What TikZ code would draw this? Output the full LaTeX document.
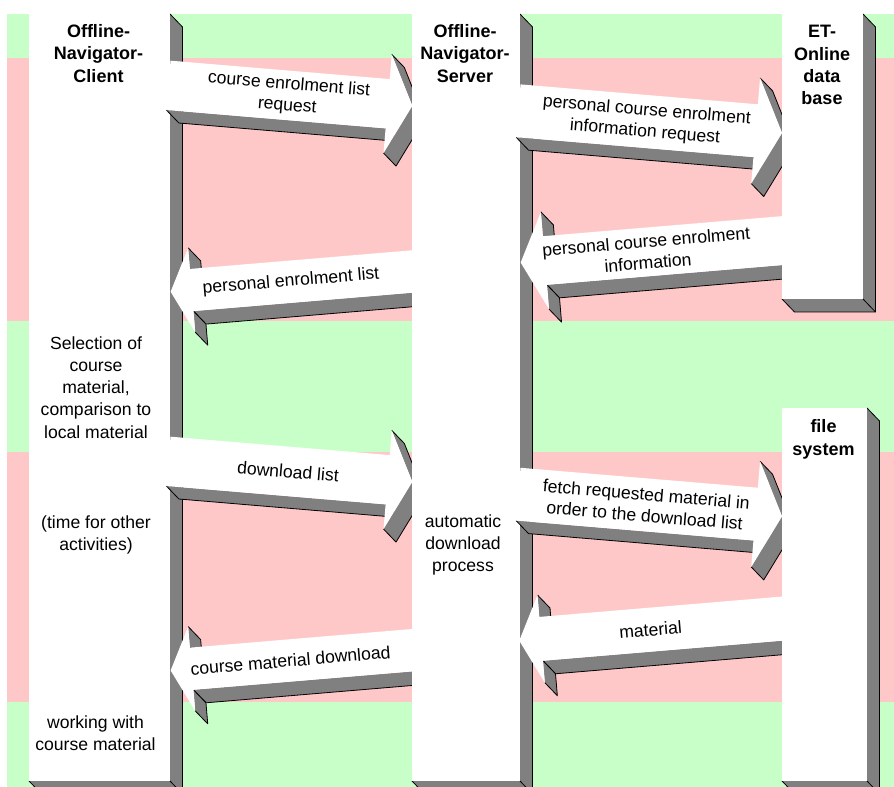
\documentclass[tikz,border=0pt]{standalone}
\usepackage{fontspec}
\setmainfont{Liberation Sans}
\usetikzlibrary{calc}
\definecolor{bandgreen}{RGB}{200,255,200}
\definecolor{bandpink}{RGB}{255,200,200}
\definecolor{shadowgray}{RGB}{128,128,128}
\newcommand\shx{12.5}
\newcommand\shy{13}
% 3D life line: x0,y0,x1,y1
\newcommand\mylifeline[4]{%
  \fill[shadowgray] (#3,#2) -- (#3+\shx,#2+\shy) -- (#3+\shx,#4+\shy) -- (#1+\shx,#4+\shy) -- (#1,#4) -- (#3,#4) -- cycle;
  \draw[edge] (#3,#2) -- (#3+\shx,#2+\shy) -- (#3+\shx,#4+\shy) -- (#1+\shx,#4+\shy) -- (#1,#4);
  \draw[edge] (#3,#4) -- (#3+\shx,#4+\shy);
  \fill[white] (#1,#2) rectangle (#3,#4);}
% arrow corner points: name,x,y,mirror,s,h,labelpos
\newcommand\mysetup[7]{%
  \begin{scope}[shift={(#2,#3)},xscale=#4,rotate=-4.8]
    \coordinate (#1TT) at (0,-#6/2);
    \coordinate (#1TB) at (0,#6/2);
    \coordinate (#1HT) at (#5,-#6/2);
    \coordinate (#1HB) at (#5,#6/2);
    \coordinate (#1UW) at (#5,-#6);
    \coordinate (#1LW) at (#5,#6);
    \coordinate (#1TP) at (#5+#6/2,0);
    \coordinate (#1L) at (#7,0);
  \end{scope}}
\newcommand\myside[2]{%
  \fill[shadowgray] (#1) -- (#2) -- ($(#2)+(\shx,\shy)$) -- ($(#1)+(\shx,\shy)$) -- cycle;
  \draw[edge] (#1) -- ($(#1)+(\shx,\shy)$) -- ($(#2)+(\shx,\shy)$) -- (#2);}
\newcommand\myfront[1]{%
  \fill[white] (#1TT) -- (#1HT) -- (#1UW) -- (#1TP) -- (#1LW) -- (#1HB) -- (#1TB) -- cycle;}
% name,x,y,s,h,labelpos,label
\newcommand\myrarrow[7]{%
  \mysetup{#1}{#2}{#3}{1}{#4}{#5}{#6}%
  \myside{#1TB}{#1HB}\myside{#1LW}{#1TP}\myside{#1TP}{#1UW}%
  \myfront{#1}%
  \node[albl,rotate=-4.8] (#1txt) at (#1L) {#7};}
\newcommand\mylarrow[7]{%
  \mysetup{#1}{#2}{#3}{-1}{#4}{#5}{#6}%
  \myside{#1HB}{#1TB}\myside{#1UW}{#1HT}\myside{#1HB}{#1LW}%
  \myfront{#1}%
  \node[albl,rotate=4.8] (#1txt) at (#1L) {#7};}
\begin{document}
\begin{tikzpicture}[x=0.75pt,y=-0.75pt,
  edge/.style={draw=black,line width=0.6pt,line join=round},
  albl/.style={font=\fontsize{13.2}{16}\selectfont,align=center,inner sep=0pt},
  clbl/.style={font=\fontsize{13.2}{16.7}\selectfont,align=center,inner sep=0pt,anchor=north},
  hlbl/.style={font=\fontsize{13.5}{16.8}\selectfont\bfseries,align=center,inner sep=0pt,anchor=north}]
\useasboundingbox (0,0) rectangle (894,787);
\clip (0,0) rectangle (894,787);
% bands
\fill[bandgreen] (7,14) rectangle (894,58);
\fill[bandpink] (7,58) rectangle (894,321);
\fill[bandgreen] (7,321) rectangle (894,452);
\fill[bandpink] (7,452) rectangle (894,702);
\fill[bandgreen] (7,702) rectangle (894,787);
% client life line
\mylifeline{29}{14}{170}{781}
% client <-> server arrows
\myrarrow{aa}{168.45}{85.35}{220}{49.5}{120}{course enrolment list\\request}
\mylarrow{ab}{416}{271.2}{225.1}{42.3}{125.4}{personal enrolment list}
\myrarrow{ae}{168.45}{461.35}{220}{49.5}{120}{download list}
\mylarrow{af}{416}{649.9}{225.1}{42.3}{126}{course material download}
% server life line
\mylifeline{412}{14}{520}{781}
% server <-> data arrows
\myrarrow{ac}{518.3}{110.8}{238.2}{53}{128}{personal course enrolment\\information request}
\mylarrow{ad}{786}{240.3}{241.9}{48.8}{139.5}{personal course enrolment\\information}
\myrarrow{ag}{518.3}{494.2}{238.2}{53}{127.7}{fetch requested material in\\order to the download list}
\mylarrow{ah}{786}{618.3}{245.7}{44}{136}{material}
% data base and file system
\mylifeline{782}{14}{863}{299}
\mylifeline{782}{408}{867}{781}
% texts
\node[hlbl] (client) at (98.5,24) {Offline-\\Navigator-\\Client};
\node[hlbl] (server) at (465,24) {Offline-\\Navigator-\\Server};
\node[hlbl] (etdb) at (822,25) {ET-\\Online\\data\\base};
\node[hlbl] (fsys) at (823.5,419.3) {file\\system};
\node[clbl] (sel) at (96,336) {Selection of\\course\\material,\\comparison to\\local material};
\node[clbl] (tfo) at (96,515) {(time for other\\activities)};
\node[clbl] (work) at (95.5,715) {working with\\course material};
\node[clbl] (auto) at (463,514) {automatic\\download\\process};
\end{tikzpicture}
\end{document}
